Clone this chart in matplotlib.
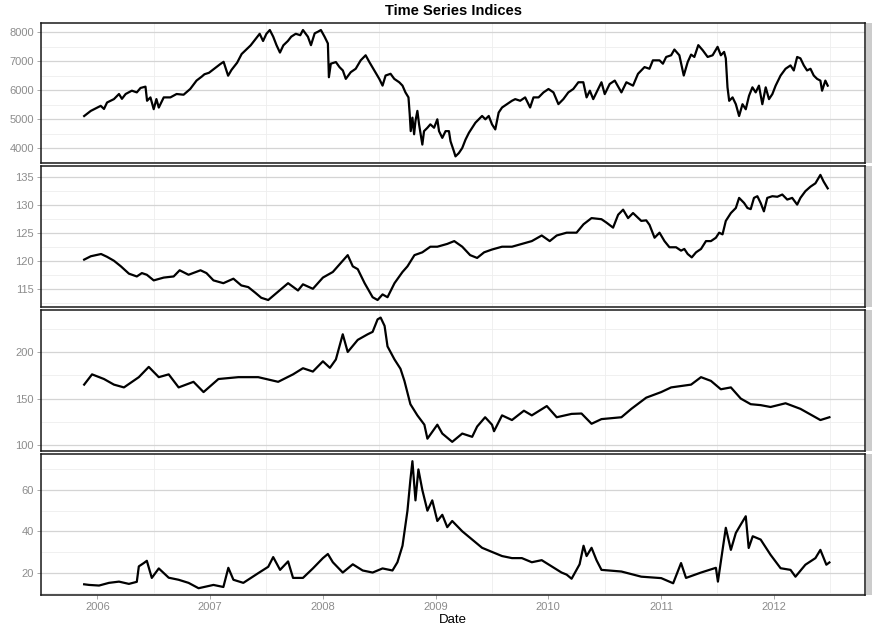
import numpy as np
import matplotlib.pyplot as plt
from matplotlib.patches import Rectangle

plt.rcParams['font.family'] = ['Liberation Sans', 'DejaVu Sans']

# time in decimal years
dax_t = [2005.883, 2005.942, 2006.030, 2006.059, 2006.086, 2006.147, 2006.192, 2006.218, 2006.251, 2006.306,
         2006.350, 2006.383, 2006.427, 2006.441, 2006.471, 2006.500, 2006.524, 2006.545, 2006.589, 2006.648,
         2006.703, 2006.765, 2006.824, 2006.880, 2006.927, 2006.95, 2006.99, 2007.04, 2007.09, 2007.12,
         2007.16, 2007.19, 2007.24, 2007.28, 2007.32, 2007.36, 2007.40, 2007.44, 2007.47, 2007.50,
         2007.53, 2007.56, 2007.59, 2007.62, 2007.65, 2007.69, 2007.72, 2007.76, 2007.80, 2007.824,
         2007.868, 2007.895, 2007.928, 2007.957, 2007.983, 2008.016, 2008.045, 2008.054, 2008.071, 2008.116,
         2008.148, 2008.178, 2008.204, 2008.248, 2008.292, 2008.336, 2008.380, 2008.413, 2008.457, 2008.501,
         2008.530, 2008.557, 2008.601, 2008.634, 2008.678, 2008.707, 2008.733, 2008.760, 2008.771, 2008.780,
         2008.795, 2008.810, 2008.822, 2008.839, 2008.854, 2008.883, 2008.898, 2008.928, 2008.954, 2008.987,
         2009.016, 2009.031, 2009.060, 2009.089, 2009.119, 2009.133, 2009.163, 2009.177, 2009.207, 2009.237,
         2009.266, 2009.296, 2009.325, 2009.354, 2009.384, 2009.413, 2009.442, 2009.472, 2009.501, 2009.530,
         2009.560, 2009.590, 2009.634, 2009.678, 2009.707, 2009.751, 2009.795, 2009.839, 2009.869, 2009.914,
         2009.958, 2010.002, 2010.046, 2010.090, 2010.134, 2010.178, 2010.222, 2010.267, 2010.311, 2010.340,
         2010.369, 2010.399, 2010.443, 2010.472, 2010.501, 2010.545, 2010.590, 2010.649, 2010.693, 2010.752,
         2010.796, 2010.854, 2010.898, 2010.928, 2010.987, 2011.017, 2011.046, 2011.090, 2011.119, 2011.163,
         2011.202, 2011.237, 2011.267, 2011.296, 2011.331, 2011.370, 2011.414, 2011.458, 2011.502, 2011.531,
         2011.560, 2011.575, 2011.590, 2011.605, 2011.635, 2011.664, 2011.693, 2011.723, 2011.752, 2011.781,
         2011.811, 2011.840, 2011.869, 2011.899, 2011.929, 2011.958, 2011.988, 2012.017, 2012.061, 2012.105,
         2012.149, 2012.178, 2012.208, 2012.237, 2012.267, 2012.296, 2012.326, 2012.355, 2012.385, 2012.414,
         2012.429, 2012.458, 2012.479]
dax = [5105, 5283, 5458, 5350, 5573, 5690, 5867, 5700, 5867, 5982,
       5923, 6076, 6122, 5633, 5750, 5342, 5692, 5398, 5750, 5750,
       5867, 5842, 6042, 6332, 6472, 6550, 6600, 6750, 6900, 6980,
       6500, 6700, 6950, 7250, 7400, 7550, 7750, 7950, 7700, 7950,
       8080, 7850, 7550, 7300, 7550, 7700, 7850, 7950, 7900, 8080,
       7846, 7556, 7965, 8021, 8080, 7846, 7615, 6447, 6915, 6972,
       6797, 6680, 6390, 6622, 6740, 7031, 7206, 6972, 6680, 6390,
       6157, 6506, 6566, 6390, 6273, 6157, 5923, 5750, 5167, 4583,
       5050, 4475, 4933, 5283, 4818, 4118, 4583, 4700, 4818, 4700,
       4992, 4583, 4350, 4583, 4583, 4233, 3885, 3710, 3825, 4000,
       4290, 4525, 4700, 4875, 4992, 5108, 4992, 5108, 4818, 4642,
       5225, 5400, 5517, 5633, 5690, 5633, 5750, 5400, 5750, 5750,
       5923, 6040, 5923, 5517, 5690, 5923, 6040, 6273, 6273, 5750,
       5982, 5690, 6040, 6273, 5864, 6214, 6331, 5923, 6273, 6156,
       6565, 6798, 6740, 7031, 7031, 6915, 7148, 7206, 7405, 7206,
       6506, 6973, 7230, 7148, 7557, 7381, 7148, 7206, 7498, 7206,
       7323, 7100, 6098, 5631, 5750, 5514, 5106, 5514, 5339, 5806,
       6098, 5923, 6156, 5514, 6098, 5689, 5864, 6156, 6506, 6740,
       6856, 6681, 7148, 7100, 6856, 6681, 6740, 6506, 6390, 6330,
       5981, 6331, 6156]

rex_t = [2005.883, 2005.942, 2006.033, 2006.086, 2006.147, 2006.209, 2006.280, 2006.350, 2006.395, 2006.439,
         2006.500, 2006.589, 2006.677, 2006.730, 2006.809, 2006.915, 2006.968, 2007.030, 2007.118, 2007.207,
         2007.277, 2007.339, 2007.401, 2007.454, 2007.516, 2007.604, 2007.692, 2007.780, 2007.824, 2007.912,
         2008.001, 2008.089, 2008.177, 2008.221, 2008.266, 2008.310, 2008.371, 2008.442, 2008.486, 2008.530,
         2008.574, 2008.636, 2008.707, 2008.751, 2008.813, 2008.883, 2008.954, 2009.016, 2009.104, 2009.166,
         2009.237, 2009.307, 2009.369, 2009.431, 2009.501, 2009.590, 2009.678, 2009.766, 2009.854, 2009.942,
         2010.013, 2010.075, 2010.163, 2010.251, 2010.313, 2010.384, 2010.472, 2010.516, 2010.575, 2010.620,
         2010.664, 2010.708, 2010.752, 2010.825, 2010.869, 2010.898, 2010.943, 2010.987, 2011.031, 2011.075,
         2011.134, 2011.178, 2011.207, 2011.237, 2011.273, 2011.311, 2011.355, 2011.399, 2011.443, 2011.487,
         2011.516, 2011.546, 2011.575, 2011.620, 2011.664, 2011.693, 2011.737, 2011.767, 2011.796, 2011.825,
         2011.855, 2011.884, 2011.913, 2011.943, 2011.988, 2012.032, 2012.076, 2012.120, 2012.164, 2012.208,
         2012.237, 2012.281, 2012.326, 2012.370, 2012.414, 2012.443, 2012.479]
rex = [120.2, 120.8, 121.2, 120.7, 120.0, 119.0, 117.7, 117.2, 117.8, 117.5,
       116.5, 117.0, 117.2, 118.3, 117.5, 118.3, 117.8, 116.5, 116.0, 116.8,
       115.6, 115.3, 114.3, 113.4, 113.0, 114.5, 116.0, 114.7, 115.8, 115.0,
       117.0, 118.0, 120.0, 121.0, 119.0, 118.5, 116.0, 113.5, 113.0, 114.0,
       113.5, 116.0, 118.0, 119.0, 121.0, 121.5, 122.5, 122.5, 123.0, 123.5,
       122.5, 121.0, 120.5, 121.5, 122.0, 122.5, 122.5, 123.0, 123.5, 124.5,
       123.5, 124.5, 125.0, 125.0, 126.5, 127.6, 127.4, 126.8, 125.9, 128.2,
       129.1, 127.6, 128.5, 127.1, 127.2, 126.4, 124.1, 125.0, 123.5, 122.4,
       122.4, 121.8, 122.1, 121.2, 120.6, 121.5, 122.1, 123.5, 123.5, 124.1,
       125.0, 124.7, 127.1, 128.5, 129.4, 131.2, 130.3, 129.4, 129.2, 131.2,
       131.5, 130.3, 128.8, 131.2, 131.5, 131.4, 131.8, 130.9, 131.2, 130.0,
       131.2, 132.4, 133.2, 133.8, 135.3, 134.1, 132.9]

com_t = [2005.883, 2005.953, 2006.059, 2006.147, 2006.236, 2006.368, 2006.456, 2006.545, 2006.633, 2006.721,
         2006.853, 2006.942, 2007.074, 2007.251, 2007.427, 2007.604, 2007.736, 2007.824, 2007.912, 2008.001,
         2008.063, 2008.116, 2008.177, 2008.221, 2008.310, 2008.398, 2008.442, 2008.486, 2008.513, 2008.548,
         2008.574, 2008.636, 2008.689, 2008.724, 2008.777, 2008.839, 2008.901, 2008.928, 2009.016, 2009.060,
         2009.148, 2009.237, 2009.325, 2009.369, 2009.440, 2009.501, 2009.519, 2009.590, 2009.678, 2009.784,
         2009.854, 2009.987, 2010.075, 2010.207, 2010.295, 2010.384, 2010.472, 2010.649, 2010.737, 2010.869,
         2011.002, 2011.090, 2011.267, 2011.355, 2011.443, 2011.531, 2011.620, 2011.708, 2011.796, 2011.884,
         2011.972, 2012.105, 2012.237, 2012.370, 2012.414, 2012.494]
com = [165, 176, 171, 165, 162, 173, 184, 173, 176, 162,
       168, 157, 171, 173, 173, 168, 176, 182.6, 179, 190,
       183, 192, 219, 200, 213, 219, 221.6, 235, 236.9, 228,
       206, 192, 182, 169, 144, 132, 122, 107, 122, 112.5,
       103.6, 112.5, 109, 120, 130, 122, 115, 132, 127, 137,
       132, 142, 130, 133.6, 134, 123, 128, 130, 139, 151,
       157, 162, 165, 173, 169, 160, 162, 150, 144, 143,
       141, 145, 139, 130, 127, 130]

vol_t = [2005.883, 2005.927, 2006.015, 2006.103, 2006.192, 2006.280, 2006.350, 2006.368, 2006.412, 2006.439,
         2006.483, 2006.545, 2006.633, 2006.721, 2006.809, 2006.898, 2007.030, 2007.118, 2007.162, 2007.207,
         2007.295, 2007.427, 2007.516, 2007.560, 2007.621, 2007.692, 2007.736, 2007.824, 2007.912, 2008.001,
         2008.045, 2008.089, 2008.177, 2008.266, 2008.354, 2008.442, 2008.530, 2008.618, 2008.662, 2008.707,
         2008.751, 2008.777, 2008.795, 2008.822, 2008.848, 2008.883, 2008.928, 2008.971, 2009.016, 2009.060,
         2009.104, 2009.148, 2009.237, 2009.325, 2009.413, 2009.501, 2009.590, 2009.678, 2009.766, 2009.854,
         2009.942, 2010.030, 2010.118, 2010.163, 2010.207, 2010.278, 2010.313, 2010.340, 2010.384, 2010.428,
         2010.472, 2010.649, 2010.825, 2011.002, 2011.108, 2011.178, 2011.222, 2011.355, 2011.487, 2011.505,
         2011.575, 2011.620, 2011.664, 2011.708, 2011.752, 2011.778, 2011.814, 2011.884, 2011.972, 2012.061,
         2012.149, 2012.193, 2012.281, 2012.370, 2012.414, 2012.467, 2012.494]
vol = [14.3, 14.0, 13.7, 15.0, 15.6, 14.5, 15.5, 23.0, 24.6, 25.7,
       17.4, 22.0, 17.5, 16.5, 15.0, 12.4, 14.0, 13.0, 22.3, 16.5,
       15.0, 19.7, 22.8, 27.5, 21.3, 25.4, 17.4, 17.4, 22.0, 27.0,
       29.0, 25.0, 20.0, 24.0, 21.0, 20.0, 22.0, 21.0, 25.0, 33.0,
       50.0, 65.0, 74.0, 55.0, 70.0, 60.0, 50.0, 55.0, 45.0, 48.0,
       42.0, 45.0, 40.0, 36.0, 32.0, 30.0, 28.0, 27.0, 27.0, 25.0,
       26.0, 23.0, 20.0, 19.0, 17.0, 24.0, 33.0, 28.0, 32.0, 26.0,
       21.3, 20.5, 18.0, 17.3, 14.8, 24.6, 17.4, 20.0, 22.3, 15.6,
       41.7, 31.0, 39.2, 43.3, 47.3, 31.9, 37.6, 36.0, 28.6, 22.1,
       21.3, 18.0, 23.8, 27.0, 31.0, 23.8, 24.9]

names = ["DAX", "REX", "GSCI", "VDAX"]
year_ticks = [2006, 2007, 2008, 2009, 2010, 2011, 2012]

panels = [
    (dax_t, dax, (3465, 8336), [4000, 5000, 6000, 7000, 8000], [3500, 4500, 5500, 6500, 7500]),
    (rex_t, rex, (111.7, 136.8), [115, 120, 125, 130, 135], [112.5, 117.5, 122.5, 127.5, 132.5]),
    (com_t, com, (93.6, 244.7), [100, 150, 200], [125, 175, 225]),
    (vol_t, vol, (9.1, 77.4), [20, 40, 60], [10, 30, 50, 70]),
]

fig = plt.figure(figsize=(8.72, 6.28), dpi=100)
gs = fig.add_gridspec(4, 1, left=0.047, right=0.992, top=0.964, bottom=0.0525, hspace=0.0213)

for i, (t, v, lim, maj, mnr) in enumerate(panels):
    ax = fig.add_subplot(gs[i])
    ax.plot(t, v, color='black', lw=1.6, solid_joinstyle='round')
    ax.set_xlim(2005.54, 2012.81)
    ax.set_ylim(lim)
    ax.set_yticks(maj)
    ax.set_yticks(mnr, minor=True)
    ax.set_xticks(year_ticks)
    ax.set_xticks([y + 0.5 for y in range(2005, 2013)], minor=True)
    ax.set_xticklabels([str(y) for y in year_ticks])
    ax.grid(which='major', axis='y', color='#d4d4d4', lw=0.9)
    ax.grid(which='minor', axis='both', color='#eeeeee', lw=0.6)
    ax.set_axisbelow(True)
    ax.tick_params(which='minor', length=0)
    ax.tick_params(which='major', length=3, width=0.6, color='#9a9a9a',
                   labelcolor='#8c8c8c', labelsize=8, pad=2)
    if i < 3:
        ax.tick_params(axis='x', which='major', length=0, labelbottom=False)
    for s in ax.spines.values():
        s.set_color('#1a1a1a')
        s.set_linewidth(1.1)
    # facet strip on the right, mostly beyond the figure edge
    ax.add_patch(Rectangle((1.0008, 0), 0.03, 1, transform=ax.transAxes, clip_on=False,
                           facecolor='#cccccc', edgecolor='none'))
    ax.text(1.0112, 0.5, names[i], transform=ax.transAxes, rotation=-90,
            ha='center', va='center', fontsize=8, color='#1a1a1a')

fig.text(453 / 872, 1 - 11 / 628, "Time Series Indices", ha='center', va='center',
         fontsize=10.5, fontweight='bold')
fig.text(453 / 872, 1 - 620 / 628, "Date", ha='center', va='center', fontsize=9.5)

fig.savefig("out.png", dpi=100)
